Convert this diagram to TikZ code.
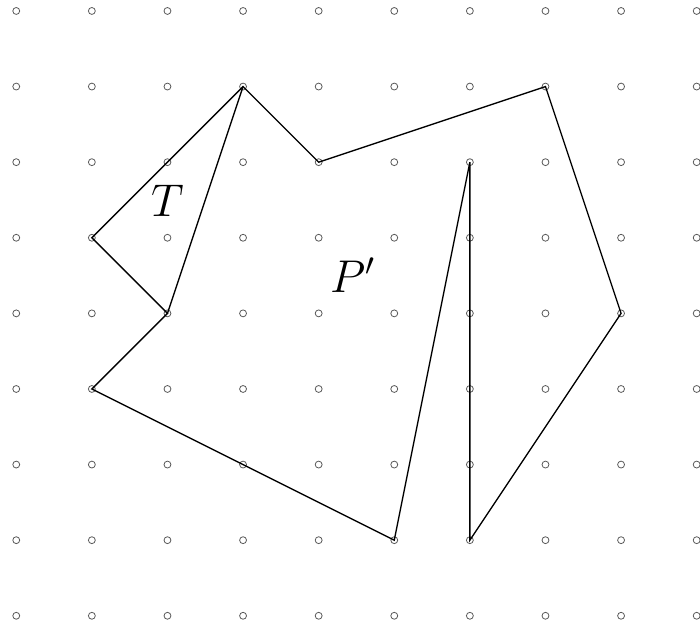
\documentclass[tikz,border=0pt]{standalone}
\usepackage{amsmath,amssymb}
\usepackage{tikz}
\usetikzlibrary{positioning,calc}
\tikzset{gridpt/.style={circle,draw=black!65,line width=0.3pt,inner sep=0pt,minimum size=2.6pt}}

\begin{document}
\begin{tikzpicture}[line width=0.5pt]
\useasboundingbox (-0.215,-0.123) rectangle (9.044,8.145);
\foreach \x in {0,...,9} {
  \foreach \y in {0,...,8} {
    \node[gridpt] (g\x\y) at (\x,\y) {};
  }
}
\coordinate (A) at (3,7);
\coordinate (B) at (4,6);
\coordinate (C) at (7,7);
\coordinate (D) at (8,4);
\coordinate (E) at (6,1);
\coordinate (F) at (6,6);
\coordinate (G) at (5,1);
\coordinate (H) at (1,3);
\coordinate (I) at (2,4);
\coordinate (J) at (1,5);
\draw (A)--(B)--(C)--(D)--(E)--(F)--(G)--(H)--(I)--(J)--cycle;
\draw (I)--(A);
\node (T) at (2,5.49) {\LARGE $T$};
\node (Pp) at (4.45,4.51) {\LARGE $P'$};
\end{tikzpicture}
\end{document}
